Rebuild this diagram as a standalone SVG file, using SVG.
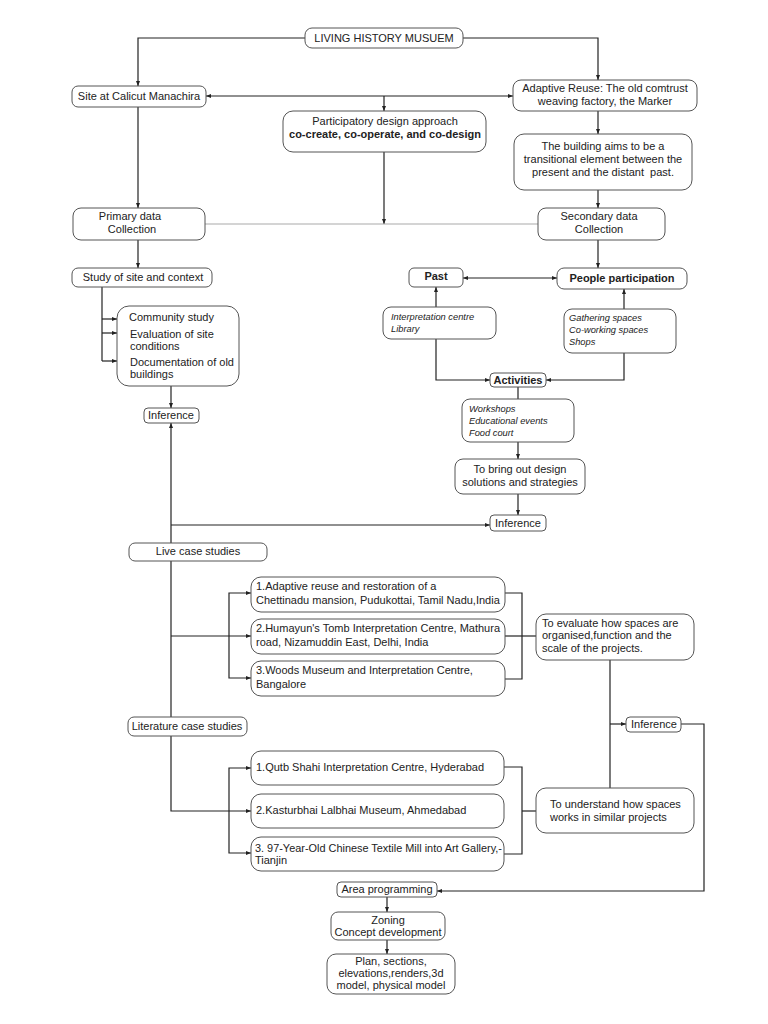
<svg xmlns="http://www.w3.org/2000/svg" width="768" height="1024" viewBox="0 0 768 1024">
<defs>
<marker id="ah" viewBox="0 0 10 10" refX="10" refY="5" markerWidth="5" markerHeight="5" orient="auto-start-reverse" markerUnits="userSpaceOnUse">
<path d="M0,1 L10,5 L0,9 Z" fill="#222"/>
</marker>
</defs>
<style>
.b{fill:#fff;stroke:#555;stroke-width:1}
.t{font-family:"Liberation Sans",Arial,sans-serif;font-size:11px;fill:#222}
.c{text-anchor:middle}
.bd{font-weight:bold}
.i{font-style:italic;font-size:9.3px}
.ln{fill:none;stroke:#222;stroke-width:1.2}
.g{fill:none;stroke:#aaa;stroke-width:1.2}
</style>
<rect width="768" height="1024" fill="#fff"/>
<g id="connectors">
<path class="ln" d="M305,38 H138 V86" marker-end="url(#ah)"/>
<path class="ln" d="M463,38 H598 V80" marker-end="url(#ah)"/>
<path class="ln" d="M206,96 H513" marker-start="url(#ah)" marker-end="url(#ah)"/>
<path class="ln" d="M384,96 V111" marker-end="url(#ah)"/>
<path class="ln" d="M138,107 V208" marker-end="url(#ah)"/>
<path class="ln" d="M598,111 V134" marker-end="url(#ah)"/>
<path class="ln" d="M598,190 V208" marker-end="url(#ah)"/>
<path class="ln" d="M384,152 V224" marker-end="url(#ah)"/>
<path class="g" d="M205,224 H538"/>
<path class="ln" d="M138,240 V268" marker-end="url(#ah)"/>
<path class="ln" d="M598,240 V268" marker-end="url(#ah)"/>
<path class="ln" d="M463,278 H557" marker-start="url(#ah)" marker-end="url(#ah)"/>
<path class="ln" d="M436,307 V287" marker-end="url(#ah)"/>
<path class="ln" d="M624,309 V289" marker-end="url(#ah)"/>
<path class="ln" d="M436,339 V380 H490" marker-end="url(#ah)"/>
<path class="ln" d="M624,353 V380 H546" marker-end="url(#ah)"/>
<path class="ln" d="M518,387 V399"/>
<path class="ln" d="M518,442 V459" marker-end="url(#ah)"/>
<path class="ln" d="M518,494 V515" marker-end="url(#ah)"/>
<path class="ln" d="M102,287 V361"/>
<path class="ln" d="M102,319 H117" marker-end="url(#ah)"/>
<path class="ln" d="M102,333 H117" marker-end="url(#ah)"/>
<path class="ln" d="M102,361 H117" marker-end="url(#ah)"/>
<path class="ln" d="M171,386 V408" marker-end="url(#ah)"/>
<path class="ln" d="M171,543 V423" marker-end="url(#ah)"/>
<path class="ln" d="M171,525 H490" marker-end="url(#ah)"/>
<path class="ln" d="M171,561 V717"/>
<path class="ln" d="M171,636 H251" marker-end="url(#ah)"/>
<path class="ln" d="M251,593 H229 V678 H251" marker-start="url(#ah)" marker-end="url(#ah)"/>
<path class="ln" d="M171,736 V811 H251" marker-end="url(#ah)"/>
<path class="ln" d="M251,768 H229 V853 H251" marker-start="url(#ah)" marker-end="url(#ah)"/>
<path class="ln" d="M505,593 H522 V679 H505"/>
<path class="ln" d="M505,636 H536"/>
<path class="ln" d="M504,767 H522 V854 H504"/>
<path class="ln" d="M522,811 H536"/>
<path class="ln" d="M610,660 V788"/>
<path class="ln" d="M610,724 H626" marker-end="url(#ah)"/>
<path class="ln" d="M681,724 H704 V891 H437" marker-end="url(#ah)"/>
<path class="ln" d="M387,897 V912" marker-end="url(#ah)"/>
<path class="ln" d="M387,940 V954" marker-end="url(#ah)"/>
</g>
<g id="n-lhm"><rect class="b" x="305" y="28" width="158" height="20" rx="7"/><text class="t c" x="384" y="42">LIVING HISTORY MUSUEM</text></g>
<g id="n-site"><rect class="b" x="72" y="86" width="134" height="21" rx="6"/><text class="t c" x="139" y="100">Site at Calicut Manachira</text></g>
<g id="n-adaptive"><rect class="b" x="513" y="80" width="184" height="31" rx="8"/><text class="t c" x="605" y="92">Adaptive Reuse: The old comtrust</text><text class="t c" x="605" y="105">weaving factory, the Marker</text></g>
<g id="n-particip"><rect class="b" x="283" y="111" width="203" height="41" rx="10"/><text class="t c" x="385" y="125">Participatory design approach</text><text class="t c bd" x="385" y="138">co-create, co-operate, and co-design</text></g>
<g id="n-building"><rect class="b" x="514" y="134" width="178" height="56" rx="10"/><text class="t c" x="603" y="150">The building aims to be a</text><text class="t c" x="603" y="163">transitional element between the</text><text class="t c" x="603" y="176" xml:space="preserve">present and the distant  past.</text></g>
<g id="n-primary"><rect class="b" x="73" y="208" width="132" height="32" rx="8"/><text class="t c" x="130" y="220">Primary data</text><text class="t c" x="132" y="233">Collection</text></g>
<g id="n-secondary"><rect class="b" x="538" y="208" width="127" height="32" rx="8"/><text class="t c" x="599" y="220">Secondary data</text><text class="t c" x="599" y="233">Collection</text></g>
<g id="n-study"><rect class="b" x="72" y="268" width="140" height="19" rx="6"/><text class="t c" x="143" y="281">Study of site and context</text></g>
<g id="n-community"><rect class="b" x="117" y="306" width="122" height="80" rx="12"/><text class="t" x="129" y="321">Community study</text><text class="t" x="130" y="338">Evaluation of site</text><text class="t" x="130" y="350">conditions</text><text class="t" x="130" y="366">Documentation of old</text><text class="t" x="130" y="378">buildings</text></g>
<g id="n-inf1"><rect class="b" x="144" y="408" width="55" height="15" rx="4"/><text class="t c" x="171" y="419">Inference</text></g>
<g id="n-past"><rect class="b" x="409" y="268" width="54" height="19" rx="5"/><text class="t c bd" x="436" y="280">Past</text></g>
<g id="n-people"><rect class="b" x="557" y="268" width="130" height="21" rx="7"/><text class="t c bd" x="622" y="282">People participation</text></g>
<g id="n-interp"><rect class="b" x="383" y="307" width="113" height="32" rx="8"/><text class="t i" x="391" y="320">Interpretation centre</text><text class="t i" x="391" y="332">Library</text></g>
<g id="n-gather"><rect class="b" x="564" y="309" width="112" height="44" rx="8"/><text class="t i" x="569" y="321">Gathering spaces</text><text class="t i" x="569" y="333">Co-working spaces</text><text class="t i" x="569" y="345">Shops</text></g>
<g id="n-activities"><rect class="b" x="490" y="373" width="56" height="14" rx="4"/><text class="t c bd" x="518" y="384">Activities</text></g>
<g id="n-workshops"><rect class="b" x="462" y="399" width="112" height="43" rx="8"/><text class="t i" x="469" y="412">Workshops</text><text class="t i" x="469" y="424">Educational events</text><text class="t i" x="469" y="436">Food court</text></g>
<g id="n-bring"><rect class="b" x="455" y="459" width="130" height="35" rx="8"/><text class="t c" x="520" y="473">To bring out design</text><text class="t c" x="520" y="486">solutions and strategies</text></g>
<g id="n-inf2"><rect class="b" x="490" y="515" width="56" height="16" rx="4"/><text class="t c" x="518" y="527">Inference</text></g>
<g id="n-live"><rect class="b" x="129" y="543" width="138" height="18" rx="6"/><text class="t c" x="198" y="555">Live case studies</text></g>
<g id="n-l1"><rect class="b" x="251" y="577" width="254" height="35" rx="10"/><text class="t" x="256" y="590">1.Adaptive reuse and restoration of a</text><text class="t" x="256" y="604">Chettinadu mansion, Pudukottai, Tamil Nadu,India</text></g>
<g id="n-l2"><rect class="b" x="251" y="619" width="254" height="35" rx="10"/><text class="t" x="256" y="632">2.Humayun's Tomb Interpretation Centre, Mathura</text><text class="t" x="256" y="646">road, Nizamuddin East, Delhi, India</text></g>
<g id="n-l3"><rect class="b" x="251" y="661" width="254" height="35" rx="10"/><text class="t" x="256" y="674">3.Woods Museum and Interpretation Centre,</text><text class="t" x="256" y="688">Bangalore</text></g>
<g id="n-eval"><rect class="b" x="536" y="614" width="158" height="46" rx="10"/><text class="t" x="542" y="627">To evaluate how spaces are</text><text class="t" x="542" y="639">organised,function and the</text><text class="t" x="542" y="652">scale of the projects.</text></g>
<g id="n-inf3"><rect class="b" x="626" y="717" width="55" height="15" rx="4"/><text class="t c" x="654" y="728">Inference</text></g>
<g id="n-lit"><rect class="b" x="128" y="717" width="119" height="19" rx="6"/><text class="t c" x="187" y="730">Literature case studies</text></g>
<g id="n-q1"><rect class="b" x="251" y="751" width="253" height="34" rx="10"/><text class="t" x="256" y="771">1.Qutb Shahi Interpretation Centre, Hyderabad</text></g>
<g id="n-q2"><rect class="b" x="251" y="794" width="253" height="34" rx="10"/><text class="t" x="256" y="814">2.Kasturbhai Lalbhai Museum, Ahmedabad</text></g>
<g id="n-q3"><rect class="b" x="251" y="837" width="253" height="34" rx="10"/><text class="t" x="255" y="852" textLength="247" lengthAdjust="spacingAndGlyphs">3. 97-Year-Old Chinese Textile Mill into Art Gallery,-</text><text class="t" x="255" y="864">Tianjin</text></g>
<g id="n-under"><rect class="b" x="536" y="788" width="158" height="45" rx="10"/><text class="t" x="550" y="808">To understand how spaces</text><text class="t" x="550" y="821">works in similar projects</text></g>
<g id="n-area"><rect class="b" x="337" y="882" width="100" height="15" rx="4"/><text class="t c" x="387" y="893">Area programming</text></g>
<g id="n-zoning"><rect class="b" x="331" y="912" width="114" height="28" rx="7"/><text class="t c" x="388" y="924">Zoning</text><text class="t c" x="388" y="936">Concept development</text></g>
<g id="n-plan"><rect class="b" x="327" y="954" width="128" height="40" rx="9"/><text class="t c" x="391" y="965">Plan, sections,</text><text class="t c" x="391" y="977">elevations,renders,3d</text><text class="t c" x="391" y="989">model, physical model</text></g>
</svg>
